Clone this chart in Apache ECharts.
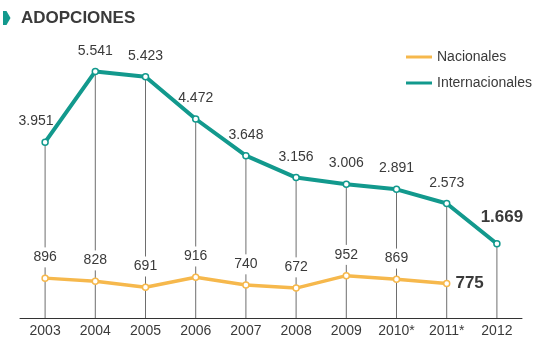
<!DOCTYPE html>
<html><head><meta charset="utf-8">
<script src="https://cdn.jsdelivr.net/npm/echarts@6/dist/echarts.min.js"></script>
<style>html,body{margin:0;padding:0;background:#fff}#c{width:560px;height:359px}</style>
</head><body><div id="c"></div>
<script>
const years = ['2003','2004','2005','2006','2007','2008','2009','2010*','2011*','2012'];
const nacionales = [896, 828, 691, 916, 740, 672, 952, 869, 775, null];
const internacionales = [3951, 5541, 5423, 4472, 3648, 3156, 3006, 2891, 2573, 1669];
const titleText = 'ADOPCIONES';
const seriesNames = ['Nacionales', 'Internacionales'];

const TEAL = '#12998d', ORANGE = '#f6b84c', TXT = '#3a3a3a';
const fmt = v => {
  const s = String(Math.round(v));
  return s.replace(/\B(?=(\d{3})+(?!\d))/g, '.');
};
const lastNac = nacionales.reduce((a, v, i) => v != null ? i : a, -1);
const lastInt = internacionales.length - 1;

const intData = internacionales.map((v, i) => {
  const d = { value: v };
  if (i === lastInt) d.label = { fontSize: 17, fontWeight: 'bold', distance: 14, offset: [5, 0] };
  if (i === 0) d.label = { offset: [-9, 0] };
  return d;
});
const nacData = nacionales.map((v, i) => {
  const d = { value: v };
  if (i === lastNac) d.label = { position: 'right', fontSize: 17, fontWeight: 'bold', distance: 5, padding: 0, backgroundColor: 'transparent' };
  return d;
});

const chart = echarts.init(document.getElementById('c'), null, { renderer: 'canvas' });
chart.setOption({
  animation: false,
  textStyle: { fontFamily: 'Liberation Sans, Arial, sans-serif' },
  graphic: [
    { type: 'polygon', z: 10, shape: { points: [[3, 11], [6.5, 11], [10.5, 18], [6.5, 25], [3, 25]] }, style: { fill: TEAL } },
    { type: 'text', left: 21, top: 10, style: { text: titleText, font: 'bold 17px Liberation Sans, Arial, sans-serif', fill: TXT } }
  ],
  legend: {
    data: [
      { name: seriesNames[0], itemStyle: { color: ORANGE, borderWidth: 0 } },
      { name: seriesNames[1], itemStyle: { color: TEAL, borderWidth: 0 } }
    ],
    orient: 'vertical',
    left: 401, top: 45,
    icon: 'rect', itemWidth: 26, itemHeight: 3, itemGap: 12,
    textStyle: { fontSize: 14, color: TXT }
  },
  grid: { left: 20, right: 38, top: 51, bottom: 41 },
  xAxis: {
    type: 'category', data: years, boundaryGap: true,
    axisLine: { lineStyle: { color: '#333', width: 1 } },
    axisTick: { show: false },
    axisLabel: { fontSize: 14, color: TXT, margin: 6 }
  },
  yAxis: { type: 'value', min: 0, max: 6000, show: false, splitLine: { show: false } },
  series: [
    {
      type: 'bar', data: internacionales, barWidth: 1, silent: true, z: 1,
      itemStyle: { color: '#6e6e6e' }
    },
    {
      name: 'Nacionales', type: 'line', data: nacData, z: 3,
      lineStyle: { color: ORANGE, width: 3.5 },
      itemStyle: { color: '#fff', borderColor: ORANGE, borderWidth: 1.5 },
      symbol: 'circle', symbolSize: 6, showAllSymbol: true,
      label: { show: true, position: 'top', distance: 7, fontSize: 14, color: TXT, backgroundColor: '#fff', padding: [3, 2], formatter: p => fmt(p.value) }
    },
    {
      name: 'Internacionales', type: 'line', data: intData, z: 4,
      lineStyle: { color: TEAL, width: 4 },
      itemStyle: { color: '#fff', borderColor: TEAL, borderWidth: 1.5 },
      symbol: 'circle', symbolSize: 6, showAllSymbol: true,
      label: { show: true, position: 'top', distance: 10, fontSize: 14, color: TXT, formatter: p => fmt(p.value) }
    }
  ]
});
</script></body></html>
